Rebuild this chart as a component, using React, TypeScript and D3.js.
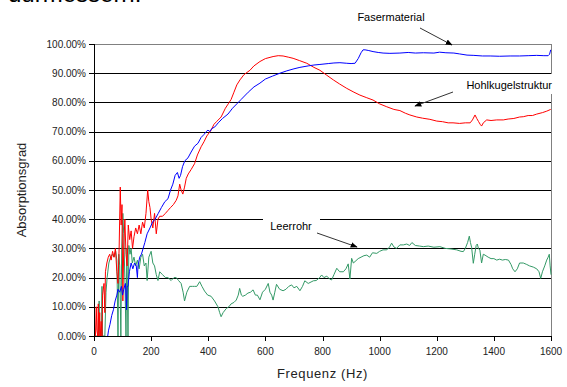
import React from "react";
import * as d3 from "d3";

// Frequenz (Hz) / Absorptionsgrad (%)
const faserData: [number, number][] = [
  [48, 0], [51, 2], [56, 4], [62, 7], [68, 9], [74, 12], [80, 14], [84, 16], [90, 15], [96, 17],
  [100, 14], [104, 16], [110, 18], [114, 9], [116, 17], [119, 17], [124, 22], [130, 25], [136, 23],
  [142, 25], [148, 24], [152, 20], [154, 24], [160, 27], [166, 28], [172, 30], [178, 32], [186, 35],
  [196, 37], [205, 39], [214, 40], [225, 42], [236, 44], [248, 46], [259, 47], [268, 50], [276, 52],
  [284, 55], [292, 56], [298, 54], [303, 55], [310, 58], [318, 60], [329, 61], [340, 63], [352, 65],
  [364, 66], [375, 68], [385, 69], [393, 70], [399, 70.5], [406, 70], [412, 71], [423, 71.6],
  [435, 73], [450, 74.5], [469, 76], [485, 78], [500, 79.5], [515, 81], [540, 83.5], [560, 85.3],
  [581, 86.6], [600, 88], [625, 89], [651, 90], [675, 90.8], [700, 91.5], [721, 92], [750, 92.5],
  [770, 92.8], [791, 93], [820, 93.3], [840, 93.5], [861, 93.6], [885, 93.4], [900, 93.3],
  [914, 93.4], [925, 95], [935, 97], [942, 98], [949, 98], [960, 97.8], [977, 97.4], [995, 97.1],
  [1012, 96.9], [1036, 96.8], [1071, 96.9], [1100, 97.1], [1125, 96.9], [1153, 97], [1190, 96.9],
  [1210, 97.2], [1232, 97], [1260, 96.9], [1280, 96.6], [1306, 96.2], [1330, 96.1], [1360, 95.9],
  [1387, 95.9], [1420, 95.8], [1457, 95.9], [1490, 95.9], [1520, 96], [1550, 96.1], [1575, 96],
  [1590, 96], [1595, 96.5], [1599, 98],
];

const hohlData: [number, number][] = [
  [5, 0], [8, 10], [10, 2], [13, 0], [15, 11], [17, 0], [20, 8], [22, 0], [25, 5], [28, 0],
  [30, 14], [35, 18], [38, 8], [40, 22], [45, 25], [50, 27], [55, 28], [60, 26], [65, 29],
  [70, 27], [75, 30], [80, 22], [84, 18], [88, 30], [92, 51], [95, 38], [98, 45], [101, 12],
  [104, 30], [108, 40], [112, 28], [116, 24], [120, 38], [125, 33], [130, 36], [135, 30],
  [140, 34], [146, 37], [152, 35], [158, 38], [164, 35], [170, 39], [176, 37], [182, 42],
  [188, 50], [192, 46], [196, 44], [200, 40], [206, 37], [212, 42], [218, 35], [224, 40],
  [230, 41], [240, 41], [250, 42], [259, 43], [268, 44], [278, 45], [288, 46.5], [294, 48],
  [300, 52], [305, 50], [311, 48.6], [317, 51], [323, 54], [330, 55.5], [340, 57], [352, 59],
  [362, 62], [375, 64.8], [385, 66.5], [395, 68.5], [410, 70.5], [420, 72.5], [430, 73.5],
  [445, 75], [460, 78], [470, 79.5], [480, 81], [490, 83.5], [500, 86], [511, 87.7], [525, 89.5],
  [546, 91], [560, 92.5], [581, 94], [600, 95], [627, 95.7], [645, 96], [662, 95.9], [680, 95.5],
  [697, 95.1], [720, 94.3], [745, 93.4], [770, 92], [791, 91], [815, 89.3], [838, 87.7],
  [860, 86.3], [885, 84.8], [910, 83.5], [931, 82.5], [955, 81.6], [977, 80.8], [1000, 79.5],
  [1025, 78.5], [1050, 77.6], [1071, 77.2], [1090, 76.3], [1106, 75.7], [1130, 75], [1150, 74.6],
  [1176, 74.2], [1200, 73.6], [1220, 73.4], [1240, 73], [1257, 73], [1280, 72.8], [1300, 73],
  [1317, 73], [1325, 74], [1334, 75.7], [1340, 74.5], [1346, 73.5], [1352, 72.5], [1357, 71.9],
  [1363, 73], [1375, 74], [1390, 73.8], [1410, 74], [1433, 74], [1450, 74.3], [1470, 74.5],
  [1490, 75], [1503, 75.1], [1520, 75.5], [1535, 75.5], [1550, 76], [1570, 76.5], [1585, 77],
  [1599, 77.6],
];

const leerData: [number, number][] = [
  [5, 0], [15, 0], [18, 12], [20, 0], [26, 0], [28, 17], [30, 0], [38, 0], [42, 15], [46, 20],
  [52, 25], [58, 27], [64, 28], [70, 27], [76, 29], [80, 26], [84, 0], [87, 28], [90, 24],
  [94, 0], [97, 30], [101, 42], [104, 35], [108, 20], [112, 0], [115, 30], [119, 0], [122, 31],
  [126, 28], [130, 30], [134, 25], [140, 27], [146, 24], [152, 26], [158, 23], [164, 27],
  [170, 28], [176, 24], [182, 25], [186, 19], [192, 27], [200, 29], [206, 25], [212, 24],
  [218, 21], [224, 19], [230, 22], [240, 21], [250, 20], [259, 20], [270, 19], [280, 20],
  [288, 20], [296, 19], [305, 18], [312, 15], [317, 12], [325, 15], [335, 17], [345, 17],
  [352, 17], [360, 17], [370, 18.6], [378, 17], [387, 15.4], [398, 14], [410, 13.6], [422, 12],
  [434, 10], [440, 8], [445, 6.6], [452, 8], [463, 9.4], [472, 10], [480, 11], [490, 11.5],
  [498, 12.3], [505, 14], [510, 16.3], [516, 14], [521, 13.6], [530, 14], [539, 14.7],
  [548, 15], [557, 15.8], [565, 14], [572, 14], [581, 12.4], [590, 15], [600, 16], [610, 18],
  [616, 15], [622, 14], [627, 12.3], [633, 15], [639, 17.7], [650, 16], [662, 15.5], [672, 16],
  [682, 17], [692, 17.5], [700, 16.5], [710, 17], [721, 15.5], [730, 17], [738, 18.9],
  [750, 18], [760, 18.5], [768, 18.9], [778, 19], [790, 20], [797, 20.9], [805, 20],
  [815, 20.5], [825, 19.5], [832, 19.2], [840, 21], [850, 23.2], [860, 22], [873, 22],
  [882, 23], [890, 24.7], [896, 19.5], [902, 26.6], [908, 25], [914, 25.5], [925, 26.5],
  [935, 27], [945, 27.5], [955, 27.7], [965, 27], [975, 28.5], [990, 28.3], [1000, 29],
  [1012, 29.5], [1025, 29.5], [1035, 30.5], [1042, 31.8], [1050, 30.5], [1059, 30],
  [1071, 31.2], [1083, 31.2], [1095, 31.5], [1105, 31], [1113, 32], [1125, 31], [1140, 30.8],
  [1153, 30.6], [1170, 30.8], [1190, 30.4], [1211, 30.6], [1230, 30], [1250, 29.8],
  [1270, 29.5], [1285, 29], [1293, 28.9], [1300, 30], [1308, 32], [1314, 34.2], [1318, 32],
  [1322, 30.4], [1328, 24.9], [1333, 28], [1338, 31], [1342, 31.5], [1346, 30], [1351, 29.4],
  [1357, 25], [1363, 28], [1369, 27.7], [1380, 27], [1390, 26.5], [1400, 26.5], [1410, 26],
  [1420, 26.3], [1430, 26], [1440, 26.2], [1451, 26], [1460, 24.5], [1466, 23], [1474, 22],
  [1482, 23], [1490, 25], [1503, 25], [1515, 24.5], [1525, 24], [1538, 23.6], [1550, 23],
  [1558, 22], [1564, 19.7], [1570, 22], [1578, 24], [1585, 26], [1590, 27], [1594, 28],
  [1597, 24], [1600, 21],
];

const xTicks = [0, 200, 400, 600, 800, 1000, 1200, 1400, 1600];
const yTicks = [0, 10, 20, 30, 40, 50, 60, 70, 80, 90, 100];

const W = 567, H = 387;
const margin = { top: 44, right: 16, bottom: 51, left: 94 };
const font = "'Liberation Sans', Arial, sans-serif";

export default function App() {
  const x = d3.scaleLinear().domain([0, 1600]).range([margin.left, W - margin.right]);
  const y = d3.scaleLinear().domain([0, 100]).range([H - margin.bottom, margin.top]);
  const line = d3.line<[number, number]>().x(d => x(d[0])).y(d => y(d[1]));
  const fmt = (v: number) => v.toFixed(2) + "%";
  const x0 = x(0), x1 = x(1600), y0 = y(0), y1 = y(100);

  return (
    <svg width={W} height={H} style={{ position: "absolute", left: 0, top: 0, background: "#fff" }}
      fontFamily={font}>
      <defs>
        <marker id="arr" viewBox="0 0 10 10" refX="9" refY="5" markerWidth="7" markerHeight="7"
          orient="auto">
          <path d="M0,1 L10,5 L0,9 z" fill="#000" />
        </marker>
      </defs>
      {/* heading above the chart, cut off by the top edge */}
      <text x={8} y={2} fontSize={24} fill="#000">durmessern.</text>

      {/* gridlines */}
      {yTicks.filter(t => t > 0 && t < 100).map(t => (
        <line key={t} x1={x0} x2={x1} y1={Math.round(y(t)) + 0.5} y2={Math.round(y(t)) + 0.5}
          stroke="#000" strokeWidth={1} />
      ))}
      {/* plot frame */}
      <line x1={x0} x2={x1} y1={Math.round(y1) + 0.5} y2={Math.round(y1) + 0.5} stroke="#808080" />
      <line x1={Math.round(x1) + 0.5} x2={Math.round(x1) + 0.5} y1={y1} y2={y0} stroke="#808080" />

      {/* series */}
      <path d={line(leerData) ?? ""} fill="none" stroke="#339966" strokeWidth={1} />
      <path d={line(hohlData) ?? ""} fill="none" stroke="#ff0000" strokeWidth={1} />
      <path d={line(faserData) ?? ""} fill="none" stroke="#0000ff" strokeWidth={1} />

      {/* axes */}
      <line x1={Math.round(x0) + 0.5} x2={Math.round(x0) + 0.5} y1={y1} y2={y0 + 0.5} stroke="#000" />
      <line x1={x0} x2={x1} y1={Math.round(y0) + 0.5} y2={Math.round(y0) + 0.5} stroke="#000" />
      {yTicks.map(t => (
        <g key={t}>
          <line x1={x0 - 5} x2={x0} y1={Math.round(y(t)) + 0.5} y2={Math.round(y(t)) + 0.5}
            stroke="#000" />
          <text x={x0 - 8} y={y(t) + 3.5} fontSize={10} textAnchor="end" fill="#222">{fmt(t)}</text>
        </g>
      ))}
      {xTicks.map(t => (
        <g key={t}>
          <line x1={Math.round(x(t)) + 0.5} x2={Math.round(x(t)) + 0.5} y1={y0} y2={y0 + 5}
            stroke="#000" />
          <text x={x(t)} y={y0 + 19} fontSize={10} textAnchor="middle" fill="#222">{t}</text>
        </g>
      ))}
      <text x={(x0 + x1) / 2} y={H - 9} fontSize={13} textAnchor="middle" letterSpacing={0.6}
        fill="#222">Frequenz (Hz)</text>
      <text transform={`translate(26,${(y0 + y1) / 2}) rotate(-90)`} fontSize={13}
        textAnchor="middle" fill="#222">Absorptionsgrad</text>

      {/* annotations */}
      <text x={391} y={21} fontSize={11} textAnchor="middle" fill="#000">Fasermaterial</text>
      <line x1={420} y1={28} x2={452} y2={45} stroke="#333" markerEnd="url(#arr)" />

      <rect x={457} y={74} width={100} height={20} fill="#fff" />
      <text x={552} y={89} fontSize={11} textAnchor="end" fill="#000">Hohlkugelstruktur</text>
      <line x1={453} y1={92} x2={415} y2={106} stroke="#333" markerEnd="url(#arr)" />

      <rect x={263} y={214} width={57} height={20} fill="#fff" />
      <text x={291} y={230} fontSize={11} textAnchor="middle" fill="#000">Leerrohr</text>
      <line x1={317} y1={233} x2={357} y2={247} stroke="#333" markerEnd="url(#arr)" />
    </svg>
  );
}
